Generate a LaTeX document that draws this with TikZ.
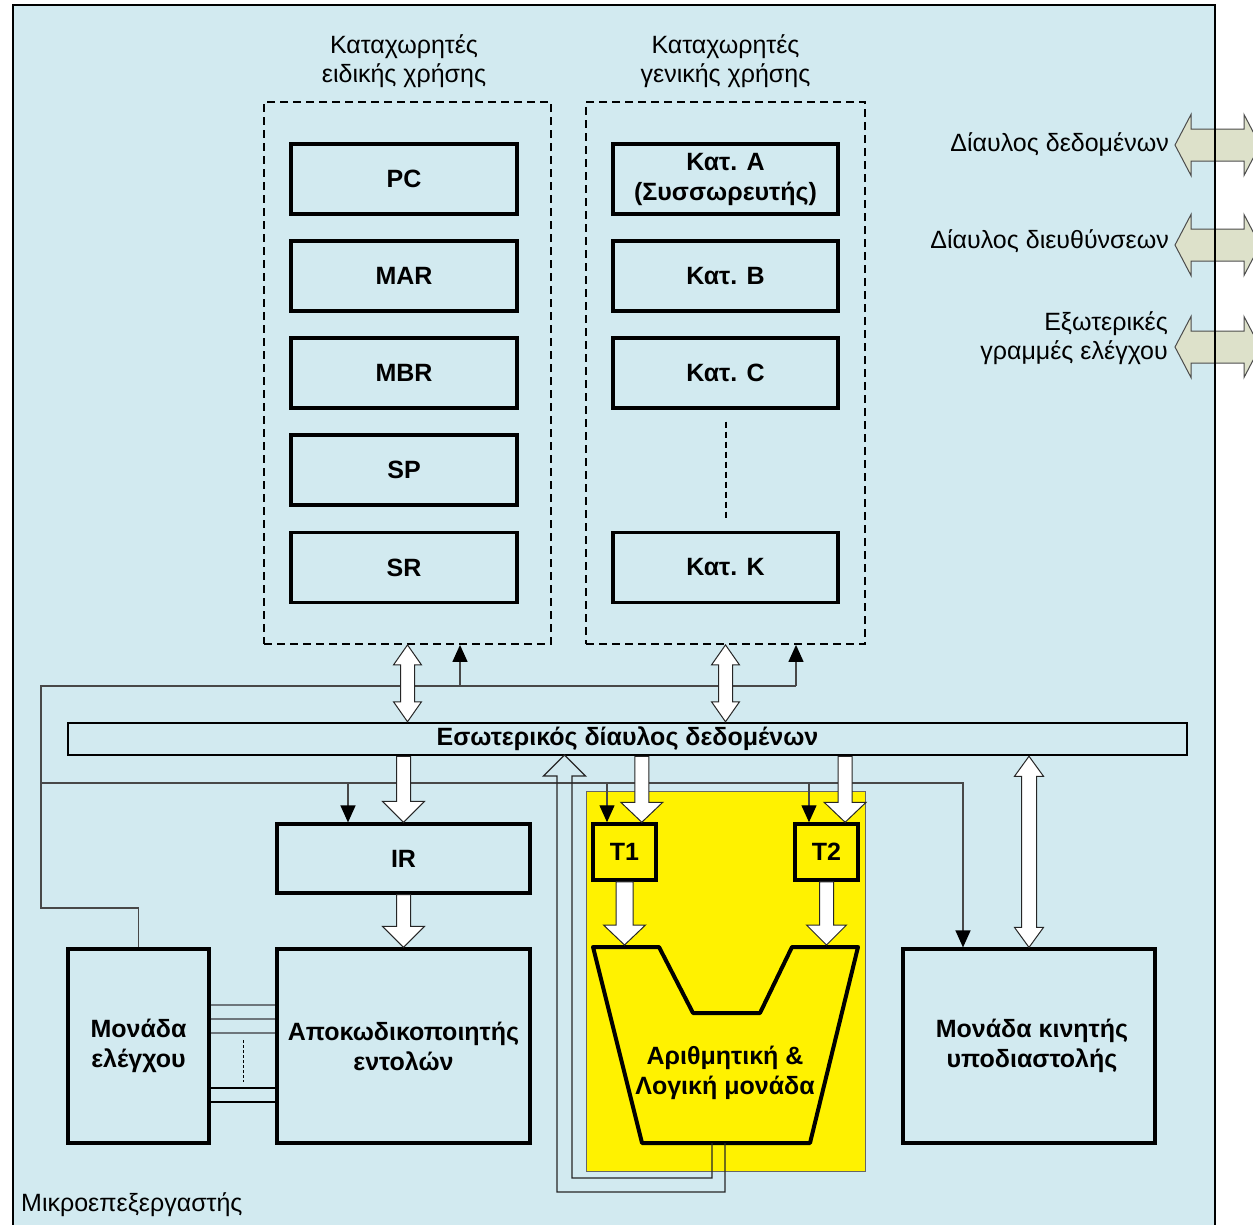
\documentclass[tikz,border=0pt]{standalone}
\usepackage{fontspec}
\setmainfont{Liberation Sans}
\usetikzlibrary{arrows.meta,calc}
\definecolor{bgblue}{RGB}{210,234,240}
\definecolor{busfill}{RGB}{221,225,202}
\definecolor{ctrlgray}{RGB}{72,72,72}
\definecolor{lgray}{RGB}{110,118,124}
\newcommand\downblk[5]{%
  \draw[blk] let \p1=#1, \p2=#2 in
    (\x2-#3pt,\y1) -- (\x2-#3pt,\y2+#5pt) -- (\x2-#4pt,\y2+#5pt) -- (\x2,\y2)
    -- (\x2+#4pt,\y2+#5pt) -- (\x2+#3pt,\y2+#5pt) -- (\x2+#3pt,\y1) -- cycle;}
\newcommand\dblblk[5]{%
  \draw[blk] let \p1=#1, \p2=#2 in
    (\x1,\y1) -- (\x1+#4pt,\y1-#5pt) -- (\x1+#3pt,\y1-#5pt) -- (\x1+#3pt,\y2+#5pt)
    -- (\x1+#4pt,\y2+#5pt) -- (\x1,\y2) -- (\x1-#4pt,\y2+#5pt) -- (\x1-#3pt,\y2+#5pt)
    -- (\x1-#3pt,\y1-#5pt) -- (\x1-#4pt,\y1-#5pt) -- cycle;}
\newcommand\hdblblk[5]{%
  \draw[busarrow] let \p1=#1, \p2=#2 in
    (\x1,\y1) -- (\x1+#5pt,\y1+#4pt) -- (\x1+#5pt,\y1+#3pt) -- (\x2-#5pt,\y1+#3pt)
    -- (\x2-#5pt,\y1+#4pt) -- (\x2,\y1) -- (\x2-#5pt,\y1-#4pt) -- (\x2-#5pt,\y1-#3pt)
    -- (\x1+#5pt,\y1-#3pt) -- (\x1+#5pt,\y1-#4pt) -- cycle;}
\begin{document}
\begin{tikzpicture}[x=1pt,y=1pt,
  txt/.style={font=\fontsize{25}{29.5}\selectfont, align=center, inner sep=0pt},
  btxt/.style={font=\bfseries\fontsize{25}{30}\selectfont, align=center},
  regbox/.style={draw, line width=3.2pt, minimum width=226pt, minimum height=70pt, inner sep=0pt, btxt},
  unitbox/.style={draw, line width=3.2pt, fill=bgblue, inner sep=0pt, btxt},
  tbox/.style={draw, line width=3.5pt, fill=yellow, minimum width=63pt, minimum height=56pt, inner sep=0pt, btxt},
  dbox/.style={draw, dash pattern=on 8pt off 5pt, line width=1.8pt, inner sep=0pt},
  blk/.style={draw=black!85, fill=white, line width=1pt, line join=miter},
  busarrow/.style={draw=black!70, fill=busfill, line width=1pt},
  ctl/.style={draw=ctrlgray, line width=1.3pt},
  ctlarrow/.style={ctl, -{Triangle[width=15pt,length=17pt,color=black]}},
  outline/.style={draw=black!85, line width=1.3pt},
]
\useasboundingbox (0,0) rectangle (1253,-1224);
\clip (0,0) rectangle (1253,-1224);

% microprocessor frame
\node[fill=bgblue, minimum width=1202pt, minimum height=1240pt, inner sep=0pt, anchor=north west] (cpu) at (13,-5) {};

% external buses
\coordinate (eb1) at (1175,-145);
\coordinate (eb1r) at (1260,-145);
\coordinate (eb2) at (1175,-245);
\coordinate (eb2r) at (1260,-245);
\coordinate (eb3) at (1175,-347);
\coordinate (eb3r) at (1260,-347);
\hdblblk{(eb1)}{(eb1r)}{16}{30.5}{16}
\hdblblk{(eb2)}{(eb2r)}{16}{30.5}{16}
\hdblblk{(eb3)}{(eb3r)}{16}{30.5}{16}
\draw[line width=2pt] (cpu.north west) rectangle (cpu.south east);

\node[txt, anchor=east] (lb1) at (1169,-144) {Δίαυλος δεδομένων};
\node[txt, anchor=east] (lb2) at (1169,-241) {Δίαυλος διευθύνσεων};
\node[txt, anchor=east, align=right] (lb3) at (1168,-338) {Εξωτερικές\\γραμμές ελέγχου};
\node[txt, anchor=west] (lcpu) at (21,-1205) {Μικροεπεξεργαστής};

% titles
\node[txt] (t1t) at (404,-61) {Καταχωρητές\\ειδικής χρήσης};
\node[txt] (t2t) at (725.5,-61) {Καταχωρητές\\γενικής χρήσης};

% dashed groups
\node[dbox, minimum width=287pt, minimum height=542pt] (lbox) at (407.5,-373) {};
\node[dbox, minimum width=279pt, minimum height=542pt] (rbox) at (725.5,-373) {};

% registers
\node[regbox] (pc)  at (404,-179) {PC};
\node[regbox] (mar) at (404,-276) {MAR};
\node[regbox] (mbr) at (404,-373) {MBR};
\node[regbox] (sp)  at (404,-470) {SP};
\node[regbox] (sr)  at (404,-567.5) {SR};
\node[regbox, minimum width=225pt] (ka) at (725.5,-179) {Κατ. A\\(Συσσωρευτής)};
\node[regbox, minimum width=225pt] (kb) at (725.5,-276) {Κατ. B};
\node[regbox, minimum width=225pt] (kc) at (725.5,-373) {Κατ. C};
\node[regbox, minimum width=225pt] (kk) at (725.5,-567.5) {Κατ. K};
\draw[dash pattern=on 6pt off 4pt, line width=2pt, shorten <=12pt, shorten >=12pt] (kc.south) -- (kk.north);

% yellow ALU area
\node[draw=black!60, line width=1pt, fill=yellow, minimum width=279pt, minimum height=380pt, inner sep=0pt] (yel) at (725.5,-981) {};

% internal bus
\node[draw, line width=2.5pt, fill=bgblue, minimum width=1119pt, minimum height=32pt, inner sep=0pt, btxt] (bus) at (627.5,-739) {Εσωτερικός δίαυλος δεδομένων};

% units
\node[unitbox, minimum width=253pt, minimum height=69pt] (ir) at (403.5,-858.5) {IR};
\node[unitbox, minimum width=253pt, minimum height=194pt] (dec) at (403.5,-1046) {Αποκωδικοποιητής\\εντολών};
\node[unitbox, minimum width=141pt, minimum height=194pt] (cu) at (138.5,-1046) {Μονάδα\\ελέγχου};
\node[unitbox, minimum width=252pt, minimum height=194pt] (fpu) at (1029,-1046) {\hspace{6pt}Μονάδα κινητής\\\hspace{6pt}υποδιαστολής};
\node[tbox] (t1) at (624.5,-852) {T1};
\node[tbox] (t2) at (826.5,-852) {T2};

% control lines
\coordinate (k1) at (41,-908);
\coordinate (k2) at (41,-686);
\coordinate (k3) at (796,-686);
\coordinate (k4) at (460,-686);
\coordinate (k5) at (41,-783);
\coordinate (k6) at (963,-783);
\coordinate (k7) at (348,-783);
\coordinate (k8) at (607,-783);
\coordinate (k9) at (809,-783);
\draw[ctl] (cu.north) -- (cu.north |- k1) -- (k1) -- (k2) -- (k3);
\draw[ctlarrow] (k3) -- (k3 |- rbox.south);
\draw[ctlarrow] (k4) -- (k4 |- lbox.south);
\draw[ctlarrow] (k5) -- (k6) -- (k6 |- fpu.north);
\draw[ctlarrow] (k7) -- (k7 |- ir.north);
\draw[ctlarrow] (k8) -- (k8 |- t1.north);
\draw[ctlarrow] (k9) -- (k9 |- t2.north);

% control unit to decoder
\foreach \dy in {41,27,13}
  \draw[draw=lgray, line width=2pt] ([yshift=\dy pt]cu.east) -- ([yshift=\dy pt]dec.west);
\foreach \dy in {-42,-56}
  \draw[line width=1.3pt] ([yshift=\dy pt]cu.east) -- ([yshift=\dy pt]dec.west);
\draw[dash pattern=on 3pt off 2pt, line width=1pt] ($(cu.east)!0.5!(dec.west)+(0,6)$) -- ++(0,-42);

% ALU
\coordinate (aluA) at (593,-947);
\coordinate (aluB) at (659,-947);
\coordinate (aluC) at (693,-1013);
\coordinate (aluD) at (760,-1013);
\coordinate (aluE) at (792,-947);
\coordinate (aluF) at (858,-947);
\coordinate (aluG) at (810,-1143);
\coordinate (aluH) at (642,-1143);
\draw[line width=4pt, fill=yellow, line join=round] (aluA) -- (aluB) -- (aluC) -- (aluD) -- (aluE) -- (aluF) -- (aluG) -- (aluH) -- cycle;
\node[btxt] (alu) at (725,-1073) {Αριθμητική \&\\Λογική μονάδα};
\coordinate (aluin1) at (624.5,-945);
\coordinate (aluin2) at (826.5,-945);
\coordinate (aluo1) at (712,-1143);
\coordinate (aluo2) at (725,-1143);
\coordinate (tipo) at (564.5,-755);

% ALU output (bent arrow back to the bus)
\draw[outline, line join=miter] (aluo1) -- (712,-1178) -- (572,-1178) -- (572,-776) -- (585.5,-776)
  -- (tipo) -- (543.5,-776) -- (557,-776) -- (557,-1192) -- (725,-1192) -- (aluo2);

% block arrows
\dblblk{(lbox.south)}{(lbox.south |- bus.north)}{7}{14}{20}
\dblblk{(rbox.south)}{(rbox.south |- bus.north)}{7}{14}{20}
\downblk{(ir.north |- bus.south)}{(ir.north)}{7}{21}{21}
\downblk{(ir.south)}{(dec.north)}{7}{21}{21}
\coordinate (t1in) at ($(t1.north west)!0.76!(t1.north east)$);
\coordinate (t2in) at ($(t2.north west)!0.78!(t2.north east)$);
\downblk{(t1in |- bus.south)}{(t1in)}{7}{21}{20}
\downblk{(t2in |- bus.south)}{(t2in)}{7}{21}{20}
\downblk{(t1.south)}{(aluin1)}{8.5}{21}{20}
\downblk{(t2.south)}{(aluin2)}{7}{20}{20}
\dblblk{(fpu.north |- bus.south)}{(fpu.north)}{7.5}{14.5}{20}
\end{tikzpicture}
\end{document}
